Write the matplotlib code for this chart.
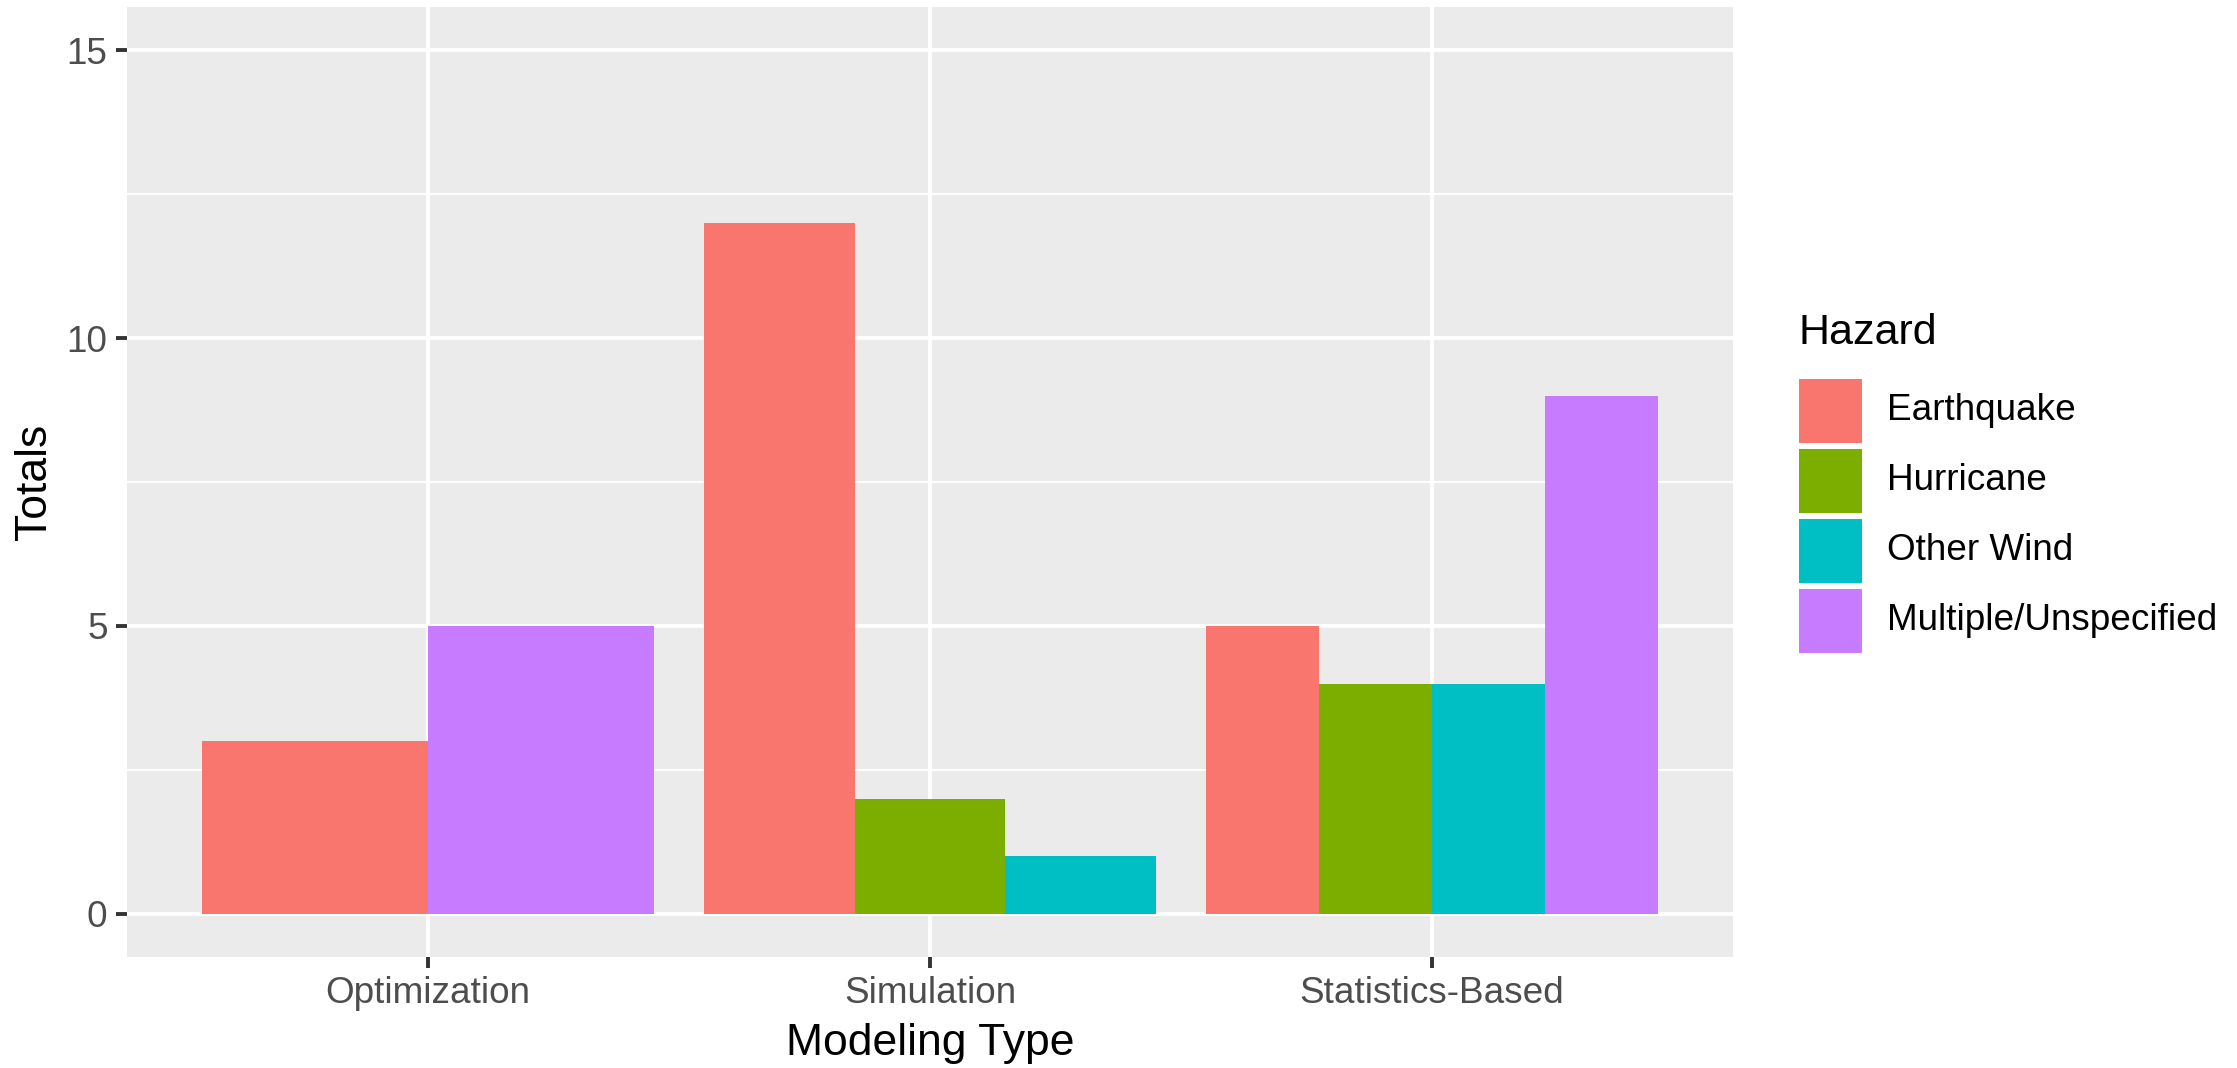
import matplotlib.pyplot as plt
from matplotlib.patches import Rectangle

plt.rcParams['font.family'] = ['Liberation Sans', 'DejaVu Sans']

# data (None = no bar in that group)
categories = ['Optimization', 'Simulation', 'Statistics-Based']
hazards = ['Earthquake', 'Hurricane', 'Other Wind', 'Multiple/Unspecified']
earthquake = [3, 12, 5]
hurricane = [None, 2, 4]
other_wind = [None, 1, 4]
multiple = [5, None, 9]
colors = ['#F8766D', '#7CAE00', '#00BFC4', '#C77CFF']
y_ticks = [0, 5, 10, 15]

series = [earthquake, hurricane, other_wind, multiple]

W, H = 2237, 1068
fig = plt.figure(figsize=(W / 200, H / 200), dpi=200)
ax = fig.add_axes([127 / W, 1 - 957 / H, (1733 - 127) / W, (957 - 7) / H])
ax.set_facecolor('#EBEBEB')

# dodged bars, like ggplot position_dodge: present groups share 0.9 width
for i, cat in enumerate(categories):
    present = [k for k in range(len(hazards)) if series[k][i] is not None]
    n = len(present)
    w = 0.9 / n
    left = (i + 1) - 0.45
    for j, k in enumerate(present):
        ax.bar(left + w * (j + 0.5), series[k][i], width=w, color=colors[k],
               linewidth=0, zorder=3)

ax.set_xlim(0.4, 3.6)
ax.set_ylim(-0.75, 15.75)
ax.set_xticks(range(1, len(categories) + 1))
ax.set_xticklabels(categories)
ax.set_yticks(y_ticks)
ax.set_yticks([2.5, 7.5, 12.5], minor=True)

ax.grid(which='major', color='white', linewidth=1.4, zorder=1)
ax.grid(which='minor', axis='y', color='white', linewidth=0.7, zorder=1)
ax.set_axisbelow(True)
for s in ax.spines.values():
    s.set_visible(False)

ax.tick_params(axis='both', which='major', length=4, width=1.4, color='#333333',
               labelsize=13.3, labelcolor='#4D4D4D', pad=3)
ax.tick_params(axis='y', which='minor', length=0)

ax.set_xlabel('Modeling Type', fontsize=16, color='black', labelpad=4)
ax.set_ylabel('Totals', fontsize=16, color='black', labelpad=4)

# legend drawn by hand in ggplot style
fig.text(1798 / W, 1 - 333 / H, 'Hazard', fontsize=15.5, va='center', ha='left')
for k, name in enumerate(hazards):
    top = 379 + 70 * k
    fig.patches.append(Rectangle((1799 / W, 1 - (top + 64) / H), 63 / W, 64 / H,
                                 transform=fig.transFigure, facecolor=colors[k],
                                 edgecolor='none'))
    fig.text(1887 / W, 1 - (top + 32) / H, name, fontsize=13.3, va='center',
             ha='left')

fig.savefig('out.png', dpi=200)
